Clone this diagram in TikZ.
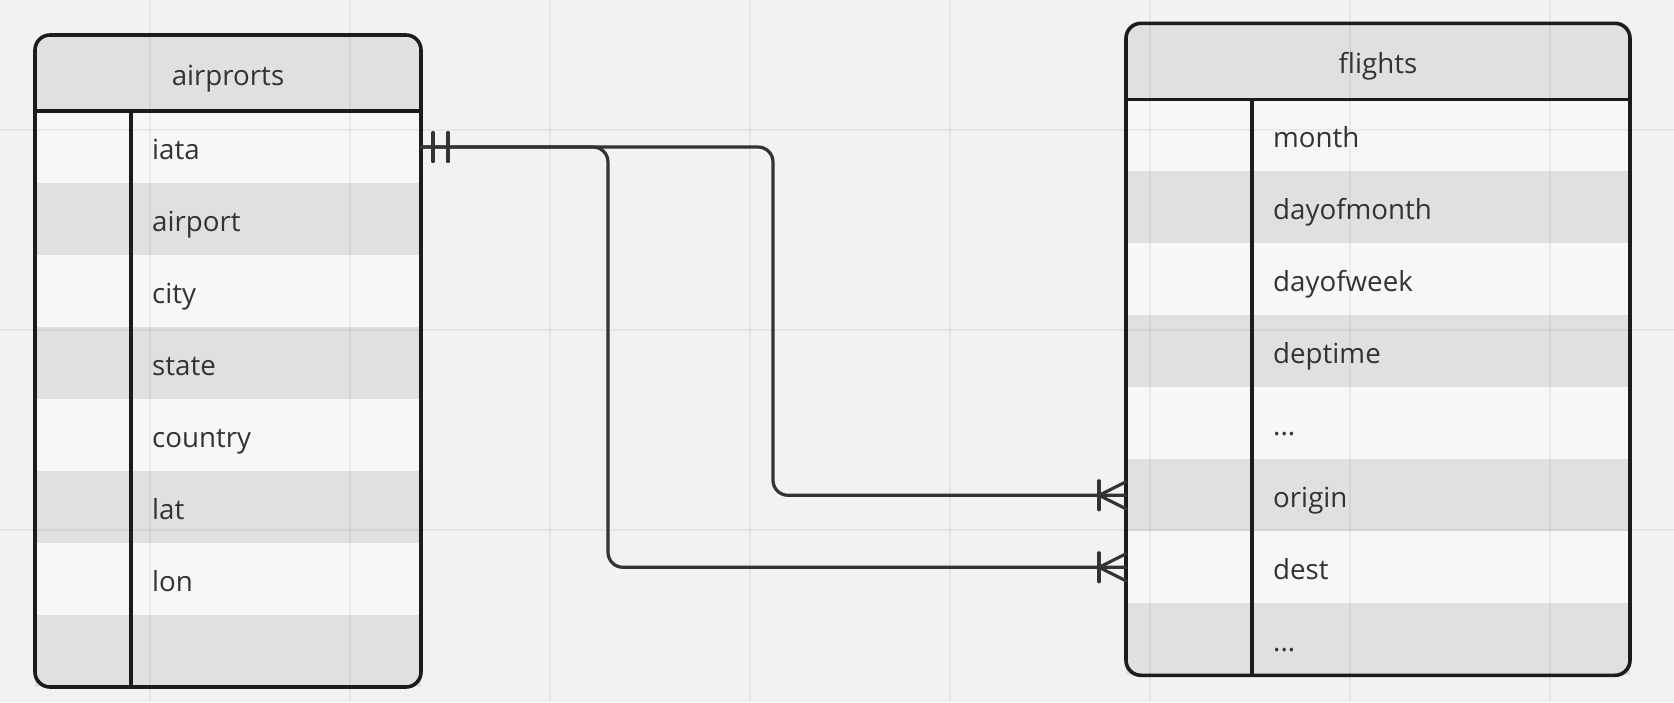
\documentclass[tikz,border=0pt]{standalone}
\usepackage{fontspec}
\setmainfont{Open Sans}
\usetikzlibrary{positioning}

\definecolor{canvas}{HTML}{F2F2F2}
\definecolor{rowlight}{HTML}{F7F7F7}
\definecolor{rowdark}{HTML}{E0E0E0}
\definecolor{edge}{HTML}{1C1C1C}
\definecolor{ink}{HTML}{333333}

\newcommand{\moredots}{...}

\tikzset{
  field/.style={font=\fontsize{27.7}{33}\selectfont, text=ink, anchor=base west, inner sep=0pt},
  title/.style={font=\fontsize{27.7}{33}\selectfont, text=ink, anchor=base, inner sep=0pt},
  cell/.style={minimum height=72pt, inner sep=0pt, outer sep=0pt, anchor=north west},
  frame/.style={draw=edge, line width=3.6pt},
  rel/.style={draw=ink, line width=3.2pt, line cap=round},
  gridline/.style={draw=black, opacity=0.05, line width=2pt},
}

\begin{document}
\begin{tikzpicture}[x=1pt,y=-1pt]
  \useasboundingbox (0,0) rectangle (1674,702);
  \fill[canvas] (0,0) rectangle (1674,702);

  % airports
  \fill[rowdark, rounded corners=15pt] (35,35) rectangle (421,687);
  \node[cell, minimum width=386pt, minimum height=76pt] (ahead) at (35,35) {};
  \foreach \i in {1,...,8} {
    \ifodd\i \def\shade{rowlight}\else\def\shade{rowdark}\fi
    \node[cell, minimum width=386pt, fill=\shade] (a\i) at (35,{111+72*(\i-1)}) {};
  }

  % flights
  \fill[rowdark, rounded corners=15pt] (1126,23.3) rectangle (1630,675.3);
  \node[cell, minimum width=504pt, minimum height=76pt] (fhead) at (1126,23.3) {};
  \foreach \i in {1,...,8} {
    \ifodd\i \def\shade{rowlight}\else\def\shade{rowdark}\fi
    \node[cell, minimum width=504pt, fill=\shade] (f\i) at (1126,{99.3+72*(\i-1)}) {};
  }

  % canvas grid
  \foreach \x in {150,350,...,1550}
    \draw[gridline] (\x,0) -- (\x,702);
  \foreach \y in {130,330,530}
    \draw[gridline] (0,\y) -- (1674,\y);

  % table frames
  \draw[frame, rounded corners=15pt] (ahead.north west) rectangle (a8.south east);
  \draw[frame] (ahead.south west) -- (ahead.south east);
  \draw[frame] ([xshift=96pt]a1.north west) -- ([xshift=96pt]a8.south west);
  \draw[frame, rounded corners=15pt] (fhead.north west) rectangle (f8.south east);
  \draw[frame] (fhead.south west) -- (fhead.south east);
  \draw[frame] ([xshift=126pt]f1.north west) -- ([xshift=126pt]f8.south west);

  % texts
  \node[title, yshift=-12pt] at (ahead.center) {airprorts};
  \node[title, yshift=-12pt] at (fhead.center) {flights};
  \foreach \name [count=\i] in {iata,airport,city,state,country,lat,lon}
    \node[field, xshift=117pt, yshift=-12pt] (a\i-name) at (a\i.west) {\name};
  \foreach \name [count=\i] in {month,dayofmonth,dayofweek,deptime,\moredots,origin,dest,\moredots}
    \node[field, xshift=147pt, yshift=-12pt] (f\i-name) at (f\i.west) {\name};

  % relations
  \draw[rel, rounded corners=15pt] (a1.east) -- ++(352,0) |- (f6.west);
  \draw[rel, rounded corners=15pt] (a1.east) -- ++(187,0) |- (f7.west);
  \foreach \dx in {12,27}
    \draw[rel] ([xshift=\dx pt, yshift=14.5pt]a1.east) -- ([xshift=\dx pt, yshift=-14.5pt]a1.east);
  \foreach \row in {f6,f7} {
    \draw[rel] ([xshift=-27pt, yshift=14.5pt]\row.west) -- ([xshift=-27pt, yshift=-14.5pt]\row.west);
    \draw[rel] ([yshift=13.5pt]\row.west) -- ([xshift=-27pt]\row.west) -- ([yshift=-13.5pt]\row.west);
  }
\end{tikzpicture}
\end{document}
